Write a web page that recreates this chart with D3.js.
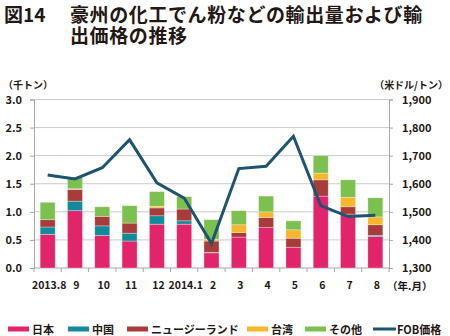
<!DOCTYPE html>
<html><head><meta charset="utf-8">
<script src="https://cdn.jsdelivr.net/npm/d3@7"></script>
<style>
body{margin:0;background:#fff;}
svg{display:block;}
text{font-family:"Noto Sans CJK JP","Noto Sans",sans-serif;fill:#231815;}
</style></head>
<body><svg id="c" width="450" height="336"></svg>
<script>
const months = ["2013.8","9","10","11","12","2014.1","2","3","4","5","6","7","8"];
const japan  = [0.60,1.02,0.58,0.48,0.78,0.78,0.27,0.55,0.72,0.37,1.28,0.96,0.56];
const china  = [0.13,0.17,0.17,0.14,0.15,0.06,0.01,0.00,0.00,0.00,0.00,0.00,0.02];
const nz     = [0.13,0.21,0.17,0.18,0.14,0.21,0.20,0.08,0.18,0.16,0.29,0.13,0.19];
const taiwan = [0.00,0.01,0.00,0.00,0.03,0.00,0.03,0.14,0.10,0.15,0.12,0.17,0.14];
const other  = [0.31,0.21,0.17,0.31,0.26,0.22,0.35,0.25,0.28,0.16,0.31,0.31,0.34];
const fob    = [1631,1617,1657,1757,1603,1549,1387,1654,1662,1769,1522,1483,1488];
const leftTicks = [0,0.5,1.0,1.5,2.0,2.5,3.0];
const rightTicks = [1300,1400,1500,1600,1700,1800,1900];
const seriesNames = ["日本","中国","ニュージーランド","台湾","その他"];
const seriesColors = ["#E2246A","#138A9C","#A83C3A","#F8B62B","#7CC04F"];
const lineName = "FOB価格";
const lineColor = "#1D5470";

const svg = d3.select("#c");
const L = 34, R = 389, T = 99.5, B = 268;

const x = d3.scaleBand().domain(months).range([L, R]).paddingInner(0.45).paddingOuter(0.225);
const xb = d3.scaleBand().domain(months).range([L, R]);
const y = d3.scaleLinear().domain([0,3]).range([B, T]);
const y2 = d3.scaleLinear().domain([1300,1900]).range([B, T]);

// title
svg.append("text").attr("x",4).attr("y",22).attr("font-size",19).attr("font-weight","bold").text("図14");
const tt = svg.append("text").attr("font-size",19).attr("font-weight","bold").attr("letter-spacing",0.6);
tt.append("tspan").attr("x",70).attr("y",22).text("豪州の化工でん粉などの輸出量および輸");
tt.append("tspan").attr("x",70).attr("y",43).text("出価格の推移");

// unit labels
svg.append("text").attr("x",3).attr("y",89).attr("font-size",10).attr("font-weight","bold").text("（千トン）");
svg.append("text").attr("x",448).attr("y",89).attr("font-size",10).attr("font-weight","bold").attr("text-anchor","end").text("（米ドル/トン）");

// gridlines
svg.append("g").selectAll("line").data(leftTicks.slice(1)).join("line")
  .attr("x1",L).attr("x2",R).attr("y1",d=>y(d)).attr("y2",d=>y(d))
  .attr("stroke","#C9C9C9").attr("stroke-width",1);

// axes
const gl = svg.append("g").attr("transform",`translate(${L},0)`)
  .call(d3.axisLeft(y).tickValues(leftTicks).tickFormat(d3.format(".1f")).tickSize(4).tickPadding(8));
const gr = svg.append("g").attr("transform",`translate(${R},0)`)
  .call(d3.axisRight(y2).tickValues(rightTicks).tickFormat(d3.format(",")).tickSize(4).tickPadding(9));
const gx = svg.append("g").attr("transform",`translate(0,${B})`)
  .call(d3.axisBottom(xb).tickSize(0).tickPadding(14));
// boundary ticks for x axis
svg.append("g").selectAll("line").data(months.concat([null])).join("line")
  .attr("x1",(d,i)=> i<months.length ? xb(d) : R).attr("x2",(d,i)=> i<months.length ? xb(d) : R)
  .attr("y1",B).attr("y2",B+4).attr("stroke","#A6A6A6");
[gl,gr,gx].forEach(g=>{
  g.selectAll("path.domain").attr("stroke","#A6A6A6");
  g.selectAll(".tick line").attr("stroke","#A6A6A6");
  g.selectAll("text").attr("font-size",11).attr("font-weight","bold")
   .attr("font-family","'Noto Sans','Open Sans',sans-serif").attr("fill","#231815");
});
gx.selectAll("text").attr("dx",1.5).attr("font-size",10.5);
gx.select("path.domain").attr("d",`M${L},0H${R}`);

svg.append("text").attr("x",387).attr("y",290).attr("font-size",10.5).attr("font-weight","bold").text("（年.月）");

// stacked bars
const rows = months.map((m,i)=>({m, "日本":japan[i],"中国":china[i],"ニュージーランド":nz[i],"台湾":taiwan[i],"その他":other[i]}));
const stack = d3.stack().keys(seriesNames)(rows);
svg.append("g").selectAll("g").data(stack).join("g").attr("fill",(d,i)=>seriesColors[i])
  .selectAll("rect").data(d=>d).join("rect")
  .attr("x",d=>x(d.data.m)).attr("width",x.bandwidth())
  .attr("y",d=>y(d[1])).attr("height",d=>Math.max(0,y(d[0])-y(d[1])))
  .attr("stroke","rgba(255,255,255,0.45)").attr("stroke-width",0.7);

// line
svg.append("path").datum(fob)
  .attr("d", d3.line().x((d,i)=>xb(months[i])+xb.bandwidth()/2).y(d=>y2(d)))
  .attr("fill","none").attr("stroke",lineColor).attr("stroke-width",3).attr("stroke-linejoin","miter");

// legend
const legX = [8,68,127,247,305];
const lg = svg.append("g");
seriesNames.forEach((n,i)=>{
  lg.append("rect").attr("x",legX[i]).attr("y",326.5).attr("width",21).attr("height",5).attr("fill",seriesColors[i]);
  lg.append("text").attr("x",legX[i]+24).attr("y",333.5).attr("font-size",11).attr("font-weight","bold").text(n);
});
lg.append("rect").attr("x",373).attr("y",327.5).attr("width",23).attr("height",3).attr("fill",lineColor);
lg.append("text").attr("x",397).attr("y",333.5).attr("font-size",11).attr("font-weight","bold").text(lineName);
</script></body></html>
